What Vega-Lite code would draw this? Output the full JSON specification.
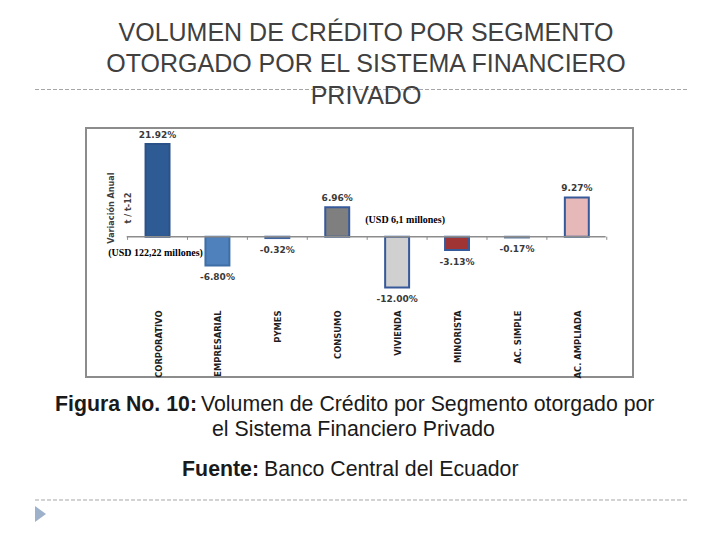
{
  "$schema": "https://vega.github.io/schema/vega-lite/v6.json",
  "width": 547,
  "height": 249,
  "autosize": {"type": "none"},
  "padding": {"left": 86, "top": 128, "right": 87, "bottom": 163},
  "background": "white",
  "config": {"view": {"stroke": "#8c8c8c", "strokeWidth": 2}},
  "data": {
    "values": [
      {"segmento": "CORPORATIVO", "variacion": 21.92, "etiqueta": "21.92%"},
      {"segmento": "EMPRESARIAL", "variacion": -6.80, "etiqueta": "-6.80%"},
      {"segmento": "PYMES", "variacion": -0.32, "etiqueta": "-0.32%"},
      {"segmento": "CONSUMO", "variacion": 6.96, "etiqueta": "6.96%"},
      {"segmento": "VIVIENDA", "variacion": -12.00, "etiqueta": "-12.00%"},
      {"segmento": "MINORISTA", "variacion": -3.13, "etiqueta": "-3.13%"},
      {"segmento": "AC. SIMPLE", "variacion": -0.17, "etiqueta": "-0.17%"},
      {"segmento": "AC. AMPLIADA", "variacion": 9.27, "etiqueta": "9.27%"}
    ]
  },
  "resolve": {"scale": {"x": "independent"}},
  "layer": [
    {
      "layer": [
        {
          "mark": {"type": "bar", "strokeWidth": 2},
          "encoding": {
            "x": {
              "field": "segmento", "type": "nominal",
              "scale": {"domain": ["CORPORATIVO", "EMPRESARIAL", "PYMES", "CONSUMO", "VIVIENDA", "MINORISTA", "AC. SIMPLE", "AC. AMPLIADA"], "paddingInner": 0.6, "paddingOuter": 0.866, "align": 0.574},
              "axis": {"title": null, "orient": "bottom", "offset": -67, "domain": false, "ticks": false, "tickSize": 0, "labelPadding": 0, "labelAngle": 270, "labelFont": "Liberation Sans Narrow, DejaVu Sans Condensed, Liberation Sans", "labelFontSize": 9.3, "labelFontWeight": "bold", "labelColor": "#1f1f1f", "labelLimit": 0, "labelOverlap": false, "labelOffset": 1, "grid": false}
            },
            "y": {"field": "variacion", "type": "quantitative", "scale": {"domain": [-33.17, 25.7], "nice": false, "zero": false}, "axis": null},
            "y2": {"datum": 0},
            "fill": {"field": "segmento", "type": "nominal", "legend": null,
              "scale": {"domain": ["CORPORATIVO", "EMPRESARIAL", "PYMES", "CONSUMO", "VIVIENDA", "MINORISTA", "AC. SIMPLE", "AC. AMPLIADA"],
                        "range": ["#2f5b94", "#4f81bd", "#4a72ab", "#7f7f7f", "#d0d0d0", "#a03434", "#6d87ab", "#e6b9b8"]}},
            "stroke": {"field": "segmento", "type": "nominal", "legend": null,
              "scale": {"domain": ["CORPORATIVO", "EMPRESARIAL", "PYMES", "CONSUMO", "VIVIENDA", "MINORISTA", "AC. SIMPLE", "AC. AMPLIADA"],
                        "range": ["#2b5288", "#3f6ea6", "#3f64a0", "#36599a", "#36599a", "#36599a", "#5f7aa0", "#36599a"]}}
          }
        },
        {
          "mark": {"type": "rule", "color": "#8c8c8c", "strokeWidth": 1},
          "encoding": {
            "x": {"field": "segmento", "type": "nominal", "bandPosition": -0.75,
              "scale": {"domain": ["CORPORATIVO", "EMPRESARIAL", "PYMES", "CONSUMO", "VIVIENDA", "MINORISTA", "AC. SIMPLE", "AC. AMPLIADA"], "paddingInner": 0.6, "paddingOuter": 0.866, "align": 0.574}},
            "y": {"datum": 0, "type": "quantitative", "scale": {"domain": [-33.17, 25.7], "nice": false, "zero": false}},
            "y2": {"datum": -0.75}
          }
        },
        {
          "transform": [{"filter": "datum.segmento === 'AC. AMPLIADA'"}],
          "mark": {"type": "rule", "color": "#8c8c8c", "strokeWidth": 1},
          "encoding": {
            "x": {"field": "segmento", "type": "nominal", "bandPosition": 1.75,
              "scale": {"domain": ["CORPORATIVO", "EMPRESARIAL", "PYMES", "CONSUMO", "VIVIENDA", "MINORISTA", "AC. SIMPLE", "AC. AMPLIADA"], "paddingInner": 0.6, "paddingOuter": 0.866, "align": 0.574}},
            "y": {"datum": 0, "type": "quantitative", "scale": {"domain": [-33.17, 25.7], "nice": false, "zero": false}},
            "y2": {"datum": -0.75}
          }
        },
        {
          "transform": [{"filter": "datum.variacion >= 0"}],
          "mark": {"type": "text", "baseline": "middle", "dy": -9, "font": "DejaVu Sans", "fontSize": 9, "fontWeight": "bold", "color": "#3a3a3a"},
          "encoding": {
            "x": {"field": "segmento", "type": "nominal",
              "scale": {"domain": ["CORPORATIVO", "EMPRESARIAL", "PYMES", "CONSUMO", "VIVIENDA", "MINORISTA", "AC. SIMPLE", "AC. AMPLIADA"], "paddingInner": 0.6, "paddingOuter": 0.866, "align": 0.574}},
            "y": {"field": "variacion", "type": "quantitative", "scale": {"domain": [-33.17, 25.7], "nice": false, "zero": false}},
            "text": {"field": "etiqueta"}
          }
        },
        {
          "transform": [{"filter": "datum.variacion < 0"}],
          "mark": {"type": "text", "baseline": "middle", "dy": 12, "font": "DejaVu Sans", "fontSize": 9, "fontWeight": "bold", "color": "#3a3a3a"},
          "encoding": {
            "x": {"field": "segmento", "type": "nominal",
              "scale": {"domain": ["CORPORATIVO", "EMPRESARIAL", "PYMES", "CONSUMO", "VIVIENDA", "MINORISTA", "AC. SIMPLE", "AC. AMPLIADA"], "paddingInner": 0.6, "paddingOuter": 0.866, "align": 0.574}},
            "y": {"field": "variacion", "type": "quantitative", "scale": {"domain": [-33.17, 25.7], "nice": false, "zero": false}},
            "text": {"field": "etiqueta"}
          }
        },
        {
          "data": {"values": [{}]},
          "mark": {"type": "text", "text": "(USD 6,1 millones)", "baseline": "middle", "dx": 8, "font": "Liberation Serif", "fontSize": 10, "fontWeight": "bold", "color": "#000000"},
          "encoding": {
            "x": {"datum": "VIVIENDA", "type": "nominal",
              "scale": {"domain": ["CORPORATIVO", "EMPRESARIAL", "PYMES", "CONSUMO", "VIVIENDA", "MINORISTA", "AC. SIMPLE", "AC. AMPLIADA"], "paddingInner": 0.6, "paddingOuter": 0.866, "align": 0.574}},
            "y": {"datum": 3.95, "type": "quantitative", "scale": {"domain": [-33.17, 25.7], "nice": false, "zero": false}}
          }
        },
        {
          "data": {"values": [{}]},
          "mark": {"type": "text", "text": "(USD 122,22 millones)", "baseline": "middle", "dx": -2, "font": "Liberation Serif", "fontSize": 10, "fontWeight": "bold", "color": "#000000"},
          "encoding": {
            "x": {"datum": "CORPORATIVO", "type": "nominal",
              "scale": {"domain": ["CORPORATIVO", "EMPRESARIAL", "PYMES", "CONSUMO", "VIVIENDA", "MINORISTA", "AC. SIMPLE", "AC. AMPLIADA"], "paddingInner": 0.6, "paddingOuter": 0.866, "align": 0.574}},
            "y": {"datum": -3.78, "type": "quantitative", "scale": {"domain": [-33.17, 25.7], "nice": false, "zero": false}}
          }
        }
      ]
    },
    {
      "data": {"values": [{}]},
      "layer": [
        {
          "mark": {"type": "rule", "color": "#8c8c8c", "strokeWidth": 1.5},
          "encoding": {
            "x": {"datum": 7.44, "type": "quantitative", "scale": {"domain": [0, 100], "nice": false, "zero": false}, "axis": null},
            "x2": {"datum": 95.0},
            "y": {"datum": 0, "type": "quantitative", "scale": {"domain": [-33.17, 25.7], "nice": false, "zero": false}}
          }
        },
        {
          "mark": {"type": "rule", "color": "#a6a6a6", "strokeWidth": 1, "strokeDash": [4, 2]},
          "encoding": {
            "x": {"datum": -9.32, "type": "quantitative", "scale": {"domain": [0, 100], "nice": false, "zero": false}, "axis": null},
            "x2": {"datum": 110.2},
            "y": {"datum": 34.8, "type": "quantitative", "scale": {"domain": [-33.17, 25.7], "nice": false, "zero": false}}
          }
        },
        {
          "mark": {"type": "rule", "color": "#a6a6a6", "strokeWidth": 1, "strokeDash": [4, 2]},
          "encoding": {
            "x": {"datum": -9.32, "type": "quantitative", "scale": {"domain": [0, 100], "nice": false, "zero": false}, "axis": null},
            "x2": {"datum": 110.2},
            "y": {"datum": -62.25, "type": "quantitative", "scale": {"domain": [-33.17, 25.7], "nice": false, "zero": false}}
          }
        },
        {
          "mark": {"type": "point", "shape": "M-0.69,-1L0.69,0L-0.69,1Z", "size": 256, "filled": true, "opacity": 1, "color": "#9db1cb", "strokeWidth": 0},
          "encoding": {
            "x": {"datum": -8.32, "type": "quantitative", "scale": {"domain": [0, 100], "nice": false, "zero": false}, "axis": null},
            "y": {"datum": -65.56, "type": "quantitative", "scale": {"domain": [-33.17, 25.7], "nice": false, "zero": false}}
          }
        },
        {
          "mark": {"type": "text", "text": ["VOLUMEN DE CRÉDITO POR SEGMENTO", "OTORGADO POR EL SISTEMA FINANCIERO", "PRIVADO"], "align": "center", "baseline": "alphabetic", "lineHeight": 31.5, "font": "Liberation Sans", "fontSize": 25, "color": "#404040"},
          "encoding": {
            "x": {"datum": 51.19, "type": "quantitative", "scale": {"domain": [0, 100], "nice": false, "zero": false}, "axis": null},
            "y": {"datum": 46.3, "type": "quantitative", "scale": {"domain": [-33.17, 25.7], "nice": false, "zero": false}}
          }
        },
        {
          "mark": {"type": "text", "text": ["Variación Anual", "t / t-12"], "angle": 270, "align": "center", "baseline": "middle", "lineHeight": 17, "font": "Liberation Sans Narrow, DejaVu Sans Condensed, Liberation Sans", "fontSize": 9, "fontWeight": "bold", "color": "#404040"},
          "encoding": {
            "x": {"datum": 4.57, "type": "quantitative", "scale": {"domain": [0, 100], "nice": false, "zero": false}, "axis": null},
            "y": {"datum": 6.78, "type": "quantitative", "scale": {"domain": [-33.17, 25.7], "nice": false, "zero": false}}
          }
        },
        {
          "mark": {"type": "text", "text": "Figura No. 10:", "align": "right", "baseline": "alphabetic", "font": "Liberation Sans", "fontSize": 21.3, "fontWeight": "bold", "color": "#1a1a1a"},
          "encoding": {
            "x": {"datum": 20.29, "type": "quantitative", "scale": {"domain": [0, 100], "nice": false, "zero": false}, "axis": null},
            "y": {"datum": -41.21, "type": "quantitative", "scale": {"domain": [-33.17, 25.7], "nice": false, "zero": false}}
          }
        },
        {
          "mark": {"type": "text", "text": "Volumen de Crédito por Segmento otorgado por", "align": "left", "baseline": "alphabetic", "font": "Liberation Sans", "fontSize": 21.3, "color": "#1a1a1a"},
          "encoding": {
            "x": {"datum": 21.02, "type": "quantitative", "scale": {"domain": [0, 100], "nice": false, "zero": false}, "axis": null},
            "y": {"datum": -41.21, "type": "quantitative", "scale": {"domain": [-33.17, 25.7], "nice": false, "zero": false}}
          }
        },
        {
          "mark": {"type": "text", "text": "el Sistema Financiero Privado", "align": "center", "baseline": "alphabetic", "font": "Liberation Sans", "fontSize": 21.3, "color": "#1a1a1a"},
          "encoding": {
            "x": {"datum": 48.9, "type": "quantitative", "scale": {"domain": [0, 100], "nice": false, "zero": false}, "axis": null},
            "y": {"datum": -47.12, "type": "quantitative", "scale": {"domain": [-33.17, 25.7], "nice": false, "zero": false}}
          }
        },
        {
          "mark": {"type": "text", "text": "Fuente:", "align": "right", "baseline": "alphabetic", "font": "Liberation Sans", "fontSize": 21.3, "fontWeight": "bold", "color": "#1a1a1a"},
          "encoding": {
            "x": {"datum": 31.63, "type": "quantitative", "scale": {"domain": [0, 100], "nice": false, "zero": false}, "axis": null},
            "y": {"datum": -56.57, "type": "quantitative", "scale": {"domain": [-33.17, 25.7], "nice": false, "zero": false}}
          }
        },
        {
          "mark": {"type": "text", "text": "Banco Central del Ecuador", "align": "left", "baseline": "alphabetic", "font": "Liberation Sans", "fontSize": 21.3, "color": "#1a1a1a"},
          "encoding": {
            "x": {"datum": 32.54, "type": "quantitative", "scale": {"domain": [0, 100], "nice": false, "zero": false}, "axis": null},
            "y": {"datum": -56.57, "type": "quantitative", "scale": {"domain": [-33.17, 25.7], "nice": false, "zero": false}}
          }
        }
      ]
    }
  ]
}
